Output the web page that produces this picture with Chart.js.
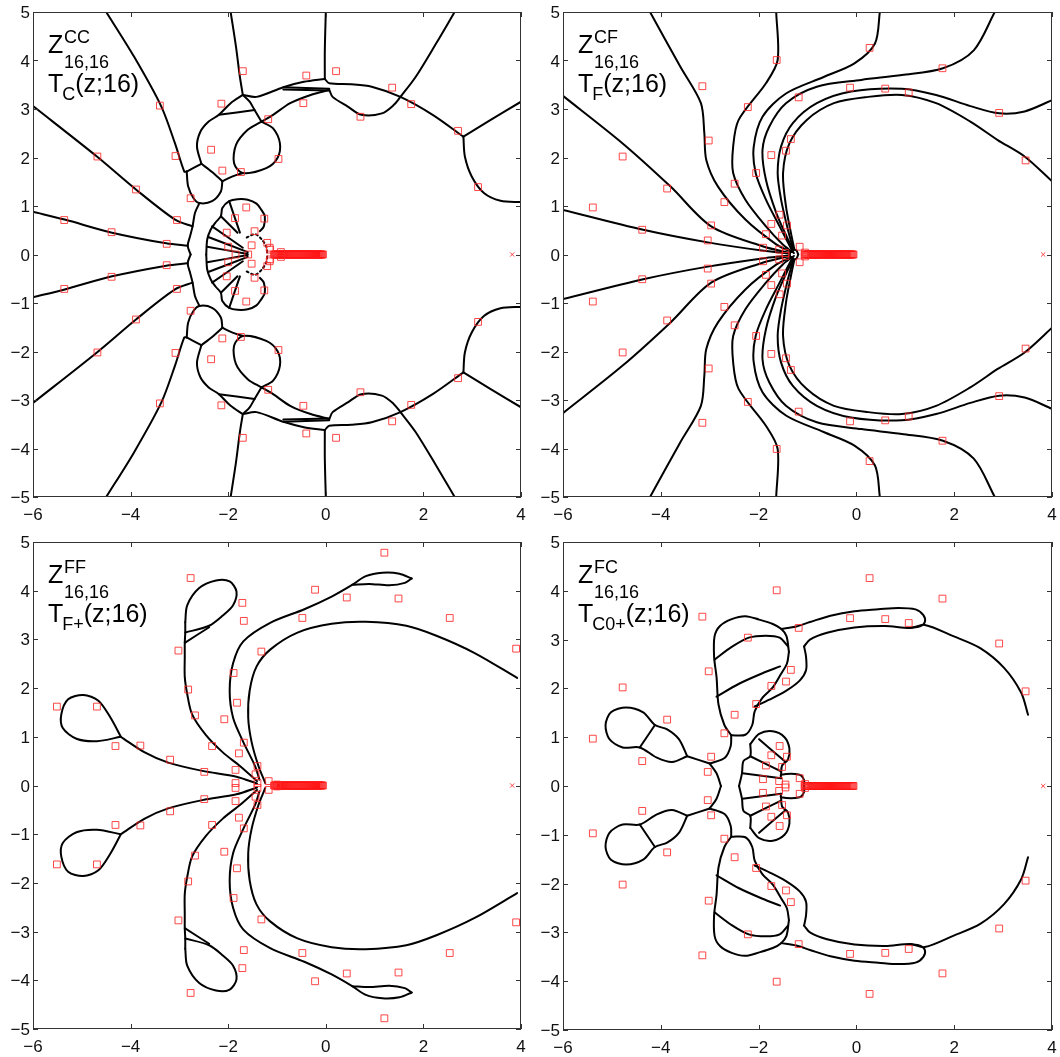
<!DOCTYPE html>
<html>
<head>
<meta charset="utf-8">
<script src="https://cdn.jsdelivr.net/npm/chart.js@4.4.1/dist/chart.umd.min.js"></script>
<style>
  body { margin: 0; background: #fff; width: 1060px; height: 1057px; position: relative; overflow: hidden; }
  canvas { position: absolute; }
</style>
</head>
<body>
<canvas id="cc" width="530" height="520" style="left:0;top:0"></canvas>
<canvas id="cf" width="530" height="520" style="left:530px;top:0"></canvas>
<canvas id="ff" width="530" height="537" style="left:0;top:520px"></canvas>
<canvas id="fc" width="530" height="537" style="left:530px;top:520px"></canvas>
<script>
// axes
const xTicks = [-6, -4, -2, 0, 2, 4];
const yTicks = [-5, -4, -3, -2, -1, 0, 1, 2, 3, 4, 5];

// poles (upper half plane, the plots are symmetric about the real axis)
const ccPoles = [[-1.70,3.78],[-0.40,3.69],[0.21,3.78],[1.36,3.44],[-2.14,3.11],[-0.46,3.12],[1.75,3.10],[-3.40,3.07],
  [-1.18,2.79],[0.71,2.84],[2.71,2.55],[-2.35,2.16],[-4.68,2.02],[-3.08,2.03],[-0.97,1.97],[-2.12,1.73],[-1.74,1.70],
  [3.12,1.39],[-3.89,1.34],[-2.77,1.16],[-1.63,0.97],[-5.36,0.71],[-3.05,0.71],[-1.86,0.75],[-1.26,0.74],[-4.39,0.46],
  [-2.03,0.45],[-1.46,0.48],[-3.26,0.22],[-1.20,0.24],[-2.00,0.16],[-1.52,0.19],[-1.15,0.14],[-1.85,0],[-1.59,0],
  [-1.14,0.10],[-0.92,0.05]];
const cfPoles = [[0.27,4.26],[-1.63,4.01],[1.76,3.84],[-3.15,3.47],[-0.13,3.44],[0.59,3.42],[1.07,3.34],[-1.18,3.24],
  [-2.22,3.04],[2.92,2.92],[-3.02,2.35],[-1.34,2.38],[-1.44,2.14],[-4.78,2.02],[-1.74,2.05],[3.46,1.94],[-2.05,1.68],
  [-2.49,1.46],[-3.87,1.36],[-2.70,1.08],[-5.39,0.97],[-1.57,0.82],[-2.97,0.60],[-1.74,0.63],[-1.42,0.60],[-4.38,0.51],
  [-1.85,0.42],[-1.52,0.39],[-3.04,0.29],[-1.91,0.14],[-1.58,0.10],[-1.16,0.16],[-1.45,0.03],[-1.05,0.04]];
const ffPoles = [[1.20,4.78],[-2.77,4.26],[-0.22,4.02],[0.43,3.86],[-1.71,3.75],[1.49,3.84],[-1.68,3.38],[-0.48,3.44],
  [2.54,3.44],[3.90,2.81],[-3.02,2.77],[-1.32,2.75],[-1.89,2.31],[-2.82,1.97],[-1.82,1.70],[-5.51,1.62],[-4.69,1.62],
  [-2.68,1.44],[-2.08,1.36],[-1.68,0.88],[-4.31,0.81],[-3.80,0.82],[-2.33,0.81],[-1.78,0.66],[-3.19,0.53],[-1.40,0.40],
  [-1.85,0.32],[-2.49,0.28],[-1.44,0.23],[-1.85,0.05],[-1.40,0.05],[-1.17,0.09],[-1.00,0.02]];
// poles piled up on the real axis, and the lone one on the right
const axisPoles = [-1.06,-1.04,-1.02,-1.00,-0.98,-0.96,-0.94,-0.92,-0.90,-0.88,-0.86,-0.84,-0.82,-0.80,-0.78,-0.76,
  -0.74,-0.72,-0.70,-0.68,-0.66,-0.64,-0.62,-0.60,-0.58,-0.56,-0.54,-0.52,-0.50,-0.48,-0.46,-0.44,-0.42,-0.40,-0.38,
  -0.36,-0.34,-0.32,-0.30,-0.28,-0.26,-0.24,-0.22,-0.20,-0.18,-0.16,-0.14,-0.12,-0.10,-0.08,-0.06];
const crossX = 3.82;

// zero curves, upper half
const ccCurves = [
  [[-4.50,5.0],[-3.93,4.08],[-3.37,3.05],[-3.09,2.29],[-2.90,1.71],[-2.85,1.71]],
  [[-2.85,1.71],[-2.55,1.87]],
  [[-2.55,1.87],[-2.33,1.70],[-2.12,1.51]],
  [[-2.85,1.71],[-2.82,1.40],[-2.71,1.16],[-2.59,1.06],[-2.33,1.10],[-2.15,1.30],[-2.12,1.51]],
  [[-2.59,1.06],[-2.68,0.86],[-2.73,0.58],[-2.78,0.38],[-2.83,0.18],[-2.77,0.0]],
  [[-6,3.06],[-4.69,2.02],[-3.89,1.34],[-3.09,0.72],[-2.73,0.58]],
  [[-6,0.88],[-5.35,0.72],[-4.38,0.45],[-3.27,0.23],[-2.83,0.18]],
  [[-2.55,1.87],[-2.64,2.23],[-2.57,2.53],[-2.40,2.74],[-2.19,2.88],[-1.95,3.12],[-1.70,3.29]],
  [[-2.19,2.88],[-1.46,2.98]],
  [[-1.70,3.29],[-1.56,3.15],[-1.46,2.98],[-1.32,2.74]],
  [[-1.95,5.0],[-1.84,4.28],[-1.76,3.66],[-1.70,3.29]],
  [[-1.70,3.29],[-1.42,3.25],[-0.87,3.45],[-0.45,3.56],[-0.02,3.62]],
  [[0.0,5.0],[-0.02,4.21],[-0.02,3.62]],
  [[-0.02,3.62],[0.07,3.53],[0.52,3.51],[0.94,3.46],[1.53,3.25],[2.19,2.88],[2.82,2.43]],
  [[2.64,5.0],[2.26,4.35],[1.84,3.66],[1.53,3.25]],
  [[4.0,3.15],[3.37,2.77],[2.82,2.43]],
  [[2.82,2.43],[2.85,2.02],[2.99,1.61],[3.24,1.27],[3.58,1.11],[4.0,1.08]],
  [[-0.87,3.45],[0.07,3.42]],
  [[-0.87,3.40],[0.07,3.38]],
  [[0.07,3.40],[0.14,3.25],[0.45,3.05],[0.73,2.88],[1.15,2.91],[1.39,3.08],[1.53,3.25]],
  [[-1.32,2.74],[-1.08,2.88],[-0.73,3.12],[-0.31,3.29],[0.07,3.39]],
  [[-1.32,2.74],[-1.08,2.60],[-0.94,2.29],[-0.99,1.99],[-1.22,1.78],[-1.70,1.68],[-1.88,1.88],[-1.84,2.26],[-1.60,2.57],[-1.32,2.74]],
  [[-1.70,1.68],[-1.91,1.61],[-2.12,1.51]],
  [[-2.45,0],[-2.43,0.31],[-2.36,0.51],[-2.26,0.66],[-2.15,0.79],[-2.12,0.96],[-1.98,1.10],[-1.81,1.14],[-1.60,1.13],
   [-1.42,1.05],[-1.32,0.92],[-1.25,0.79],[-1.27,0.58],[-1.35,0.48]],
  [[-2.43,0.16],[-1.60,0.01]],
  [[-2.41,0.36],[-1.60,0.05]],
  [[-2.33,0.58],[-1.70,0.14]],
  [[-2.15,0.79],[-1.81,0.45]],
  [[-1.98,1.10],[-1.76,0.45]]
];
const ccDotted = [[-1.62,0.35],[-1.45,0.42],[-1.32,0.32],[-1.22,0.16],[-1.20,0]];

const cfCurves = [
  [[-6,0.92],[-4.36,0.51],[-3.04,0.25],[-1.85,0.07],[-1.36,0.02]],
  [[-6,3.27],[-4.78,2.29],[-3.80,1.40],[-2.97,0.58],[-1.92,0.17],[-1.36,0.03]],
  [[-4.22,5],[-3.60,3.87],[-3.18,3.12],[-3.11,2.50],[-3.07,1.95],[-2.83,1.40],[-2.27,0.72],[-1.64,0.21],[-1.33,0.05]],
  [[-1.64,5],[-1.61,4.01],[-1.85,3.53],[-2.41,2.77],[-2.52,2.23],[-2.52,1.68],[-2.27,1.13],[-1.85,0.58],[-1.51,0.21],[-1.31,0.05]],
  [[0.48,5],[0.38,4.35],[-0.04,3.94],[-0.67,3.66],[-1.44,3.32],[-1.92,2.84],[-2.10,2.22],[-2.06,1.68],[-1.85,1.13],
   [-1.57,0.58],[-1.36,0.17],[-1.28,0.03]],
  [[2.83,5],[2.40,4.21],[1.77,3.84],[0.93,3.70],[0.10,3.60],[-0.81,3.46],[-1.44,3.12],[-1.78,2.64],[-1.92,2.16],
   [-1.85,1.54],[-1.64,0.86],[-1.43,0.38],[-1.29,0.10]],
  [[4.0,3.18],[3.44,2.95],[2.92,2.91],[2.33,3.06],[1.63,3.29],[0.93,3.42],[-0.11,3.36],[-0.81,3.12],[-1.30,2.71],
   [-1.54,2.23],[-1.61,1.68],[-1.54,1.13],[-1.40,0.51],[-1.30,0.14]],
  [[4.0,1.51],[3.44,2.02],[2.89,2.36],[2.33,2.74],[1.63,3.12],[0.93,3.29],[0.24,3.25],[-0.46,3.12],[-1.02,2.77],
   [-1.37,2.29],[-1.50,1.68],[-1.44,0.99],[-1.34,0.45],[-1.27,0.11]],
  [[-1.37,0],[-1.33,0.09],[-1.23,0.09],[-1.19,0]]
];

const ffCurves = [
  [[-4.20,1.00],[-4.41,1.39],[-4.66,1.74],[-4.97,1.86],[-5.28,1.77],[-5.42,1.46],[-5.39,1.18],[-5.11,0.96],[-4.69,0.91],[-4.20,1.00]],
  [[-4.20,1.00],[-3.71,0.68],[-3.23,0.47],[-2.53,0.30],[-1.83,0.18],[-1.41,0.04]],
  [[-2.88,3.35],[-2.84,3.70],[-2.60,4.05],[-2.25,4.21],[-1.97,4.19],[-1.83,3.98],[-1.90,3.70],[-2.11,3.49],[-2.39,3.28],[-2.88,3.14]],
  [[-2.89,2.93],[-2.39,3.25]],
  [[-2.88,3.35],[-2.88,3.14],[-2.89,2.93],[-2.89,2.65],[-2.89,2.23],[-2.84,1.88],[-2.74,1.46],[-2.46,1.04],[-2.11,0.68],
   [-1.76,0.40],[-1.41,0.09]],
  [[1.76,4.25],[1.51,4.35],[1.16,4.37],[0.82,4.30],[0.54,4.12],[0.12,3.88],[-0.44,3.62],[-1.14,3.34],[-1.69,2.96],
   [-1.90,2.51],[-1.97,1.95],[-1.90,1.39],[-1.69,0.89],[-1.45,0.40],[-1.36,0.12]],
  [[1.76,4.25],[1.62,4.16],[1.30,4.11],[0.89,4.14],[0.54,4.12]],
  [[3.92,2.21],[3.05,2.72],[2.28,3.07],[1.65,3.28],[0.82,3.36],[0.12,3.32],[-0.58,3.14],[-1.14,2.79],[-1.42,2.44],
   [-1.56,1.95],[-1.59,1.39],[-1.52,0.89],[-1.38,0.40],[-1.24,0.05]]
];

const fcCurves = [
  [[-3.46,0.61],[-3.63,0.96],[-3.87,1.16],[-4.12,1.25],[-4.36,1.51],[-4.71,1.61],[-5.02,1.51],[-5.13,1.25],[-5.05,0.96],
   [-4.78,0.79],[-4.43,0.79],[-4.08,0.58],[-3.77,0.49],[-3.46,0.61]],
  [[-4.12,1.25],[-4.43,0.79]],
  [[-3.46,0.61],[-3.00,0.46]],
  [[-3.00,0.46],[-2.86,0.26],[-2.77,0]],
  [[-3.00,0.46],[-2.69,0.58],[-2.57,0.82],[-2.56,1.04]],
  [[-2.56,1.04],[-2.27,1.05],[-2.13,1.25],[-2.08,1.53],[-1.92,1.81],[-1.71,2.02],[-1.54,2.30],[-1.42,2.51],[-1.38,2.75]],
  [[-2.56,1.04],[-2.70,1.25],[-2.82,1.67],[-2.86,2.23],[-2.91,2.65],[-2.90,3.07],[-2.79,3.28],[-2.55,3.42],[-2.27,3.48],
   [-1.99,3.41],[-1.71,3.32],[-1.54,3.22],[-1.43,3.07],[-1.38,2.75]],
  [[-2.90,2.59],[-2.55,2.85],[-2.20,3.04],[-1.85,3.08],[-1.57,3.04],[-1.40,2.86]],
  [[-2.86,1.83],[-2.41,2.09],[-1.92,2.31],[-1.56,2.45]],
  [[-1.54,3.22],[-1.23,3.27],[-0.95,3.36],[-0.53,3.49],[-0.04,3.58],[0.45,3.62],[0.86,3.65],[1.21,3.62],[1.37,3.50],
   [1.40,3.36],[1.30,3.27],[1.10,3.24]],
  [[-1.07,2.86],[-0.95,3.00],[-0.60,3.14],[-0.04,3.25],[0.59,3.28],[1.10,3.24],[1.40,3.30],[1.98,3.07],[2.54,2.82],
   [3.02,2.42],[3.37,1.91],[3.51,1.46]],
  [[-1.07,2.86],[-1.03,2.65],[-1.03,2.37],[-1.16,2.16],[-1.44,1.95],[-1.78,1.77],[-2.08,1.63]],
  [[-2.17,0.86],[-1.99,1.07],[-1.71,1.12],[-1.47,1.00],[-1.37,0.77],[-1.40,0.54],[-1.52,0.42],[-1.54,0.23]],
  [[-2.17,0.86],[-2.17,0.61],[-2.31,0.51],[-2.34,0.26],[-2.40,0]],
  [[-1.99,0.96],[-1.47,0.51]],
  [[-2.17,0.61],[-1.54,0.30]],
  [[-2.33,0.26],[-1.54,0.16]],
  [[-1.54,0.16],[-1.54,0.23],[-1.16,0.23],[-1.07,0.12],[-1.07,0]]
];

const red = 'rgba(255,40,40,0.85)';
const fontFamily = '"Liberation Sans", Arial, Helvetica, sans-serif';

function fmt(v) { return v < 0 ? '\u2212' + Math.abs(v) : String(v); }

function curveSet(pts, flip, dash) {
  return {
    type: 'line',
    data: pts.map(p => ({ x: p[0], y: flip ? -p[1] : p[1] })),
    showLine: true,
    borderColor: '#000',
    borderWidth: 2,
    borderDash: dash || [],
    borderCapStyle: 'round',
    borderJoinStyle: 'round',
    tension: 0.3,
    pointRadius: 0,
    fill: false
  };
}

function poleSet(pts) {
  return {
    data: pts.map(p => ({ x: p[0], y: p[1] })),
    pointStyle: 'rect',
    pointRadius: 4.8,
    borderColor: red,
    backgroundColor: 'rgba(0,0,0,0)',
    borderWidth: 1,
    showLine: false
  };
}

// frame, inward ticks, tick labels and the panel caption
const framePlugin = {
  id: 'frame',
  afterDraw(chart) {
    const { ctx, chartArea: a, scales } = chart;
    const sx = scales.x, sy = scales.y;
    const cap = chart.options.plugins.frame;
    ctx.save();
    ctx.strokeStyle = '#333';
    ctx.lineWidth = 1;
    ctx.strokeRect(a.left + 0.5, a.top + 0.5, a.right - a.left - 1, a.bottom - a.top - 1);
    ctx.beginPath();
    xTicks.forEach(v => {
      const px = Math.round(sx.getPixelForValue(v)) + 0.5;
      ctx.moveTo(px, a.bottom); ctx.lineTo(px, a.bottom - 5);
      ctx.moveTo(px, a.top); ctx.lineTo(px, a.top + 5);
    });
    yTicks.forEach(v => {
      const py = Math.round(sy.getPixelForValue(v)) + 0.5;
      ctx.moveTo(a.left, py); ctx.lineTo(a.left + 5, py);
      ctx.moveTo(a.right, py); ctx.lineTo(a.right - 5, py);
    });
    ctx.stroke();

    ctx.fillStyle = '#111';
    ctx.font = '17px ' + fontFamily;
    ctx.textBaseline = 'alphabetic';
    ctx.textAlign = 'center';
    xTicks.forEach(v => ctx.fillText(fmt(v), sx.getPixelForValue(v), a.bottom + 23));
    ctx.textAlign = 'right';
    yTicks.forEach(v => ctx.fillText(fmt(v), a.left - 3, sy.getPixelForValue(v) + 6));

    // caption: Z^{sup}_{16,16} / T_{sub}(z;16)
    ctx.textAlign = 'left';
    ctx.fillStyle = '#000';
    const big = '25px ' + fontFamily, small = '18px ' + fontFamily;
    const x0 = a.left + 15;
    ctx.font = big;
    ctx.fillText('Z', x0, a.top + 41);
    ctx.font = small;
    ctx.fillText(cap.sup, x0 + 16, a.top + 31);
    ctx.fillText('16,16', x0 + 16, a.top + 56);
    ctx.font = big;
    ctx.fillText('T', x0, a.top + 80);
    const tw = ctx.measureText('T').width;
    ctx.font = small;
    ctx.fillText(cap.sub, x0 + tw - 1, a.top + 88);
    const sw = ctx.measureText(cap.sub).width;
    ctx.font = big;
    ctx.fillText('(z;16)', x0 + tw + sw - 1, a.top + 80);
    ctx.restore();
  }
};

function makePanel(id, curves, poles, sup, sub, pad, dotted) {
  const mirrored = poles.filter(p => p[1] !== 0).map(p => [p[0], -p[1]]);
  const datasets = [
    poleSet(poles),
    poleSet(mirrored),
    Object.assign(poleSet(axisPoles.map(x => [x, 0])), { borderColor: 'rgba(255,20,20,0.9)' }),
    {
      data: [{ x: crossX, y: 0 }],
      pointStyle: 'crossRot',
      pointRadius: 3,
      borderColor: red,
      borderWidth: 1,
      showLine: false
    }
  ];
  curves.forEach(c => {
    datasets.push(curveSet(c, false));
    datasets.push(curveSet(c, true));
  });
  if (dotted) {
    datasets.push(curveSet(dotted, false, [2, 3]));
    datasets.push(curveSet(dotted, true, [2, 3]));
  }
  new Chart(document.getElementById(id), {
    type: 'scatter',
    data: { datasets },
    options: {
      responsive: false,
      animation: false,
      devicePixelRatio: 1,
      events: [],
      layout: { padding: pad },
      scales: {
        x: { type: 'linear', min: -6, max: 4, display: false },
        y: { type: 'linear', min: -5, max: 5, display: false }
      },
      plugins: {
        legend: { display: false },
        tooltip: { enabled: false },
        frame: { sup, sub }
      }
    },
    plugins: [framePlugin]
  });
}

makePanel('cc', ccCurves, ccPoles, 'CC', 'C', { left: 33, top: 12, right: 9, bottom: 23 }, ccDotted);
makePanel('cf', cfCurves, cfPoles, 'CF', 'F', { left: 33, top: 12, right: 8, bottom: 23 });
makePanel('ff', ffCurves, ffPoles, 'FF', 'F+', { left: 33, top: 22, right: 9, bottom: 28 });
makePanel('fc', fcCurves, cfPoles, 'FC', 'C0+', { left: 33, top: 22, right: 8, bottom: 27 });
</script>
</body>
</html>
